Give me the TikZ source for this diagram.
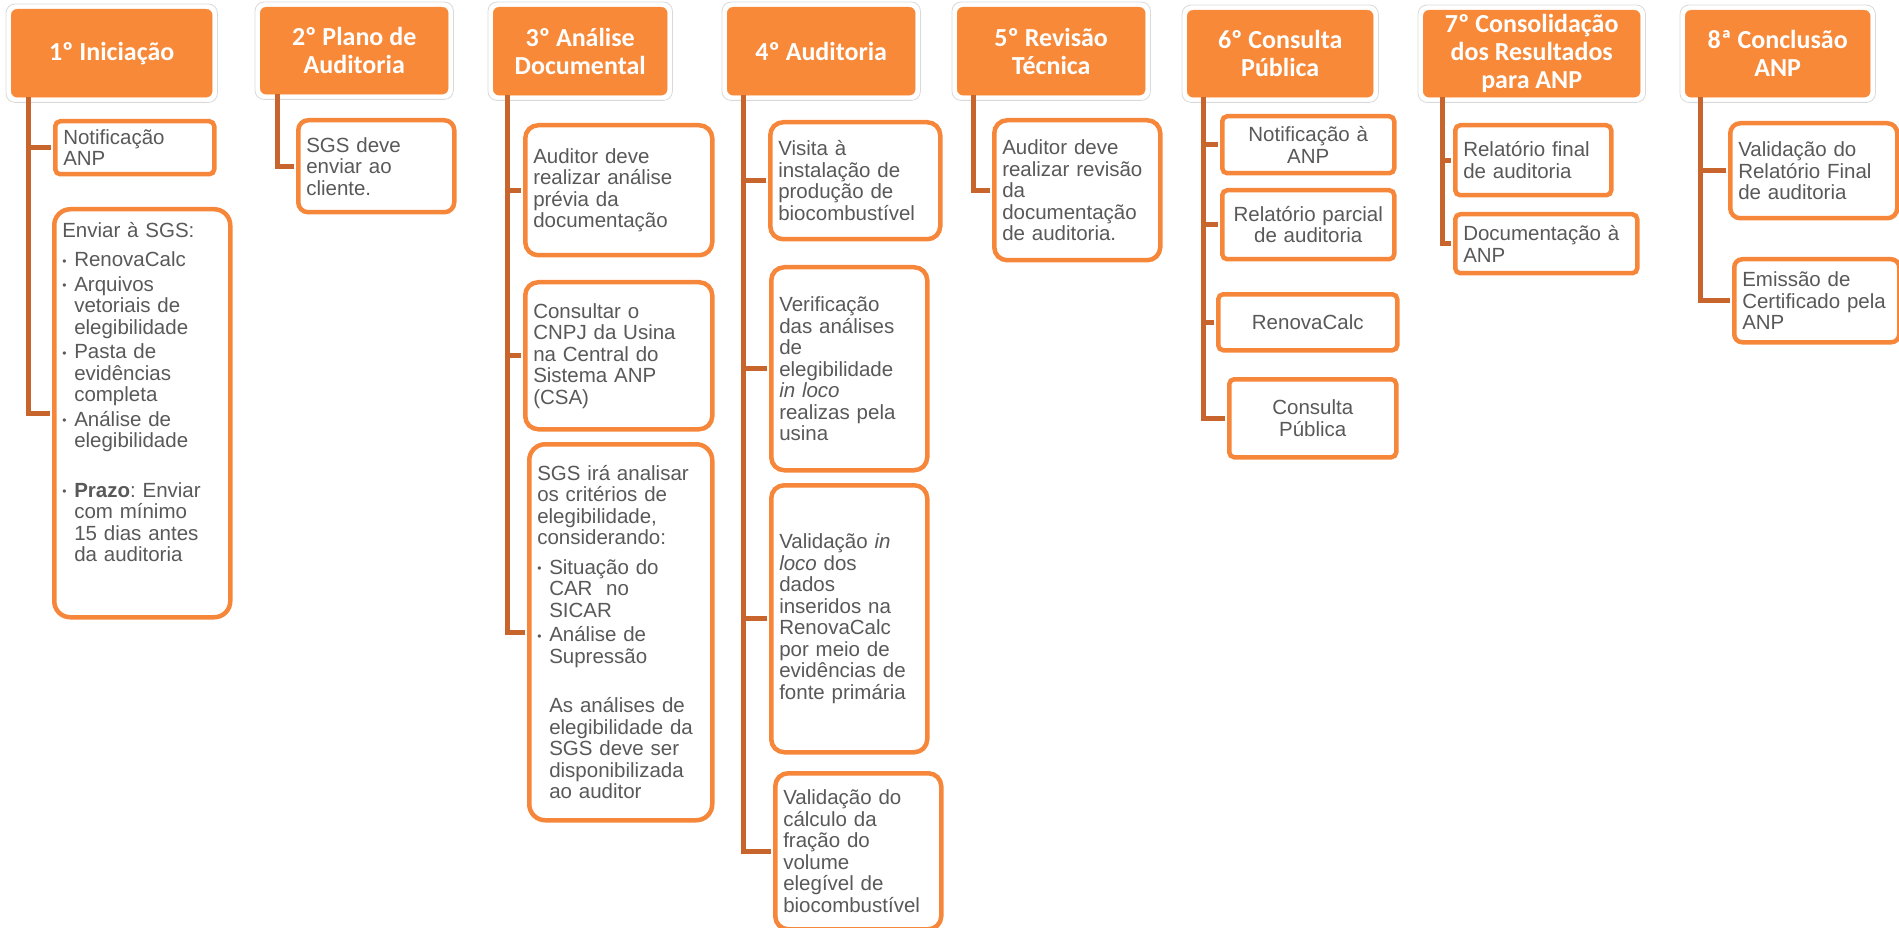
\documentclass[tikz,border=0pt]{standalone}
\usepackage{fontspec}
\setmainfont{Liberation Sans}
\newfontfamily\calfont{Carlito}
\usetikzlibrary{fit}
\definecolor{hdrorange}{RGB}{247,137,57}
\definecolor{boxorange}{RGB}{246,135,58}
\definecolor{linkorange}{RGB}{200,101,45}
\definecolor{txtgrey}{RGB}{89,89,89}
\definecolor{framegrey}{RGB}{217,217,217}
\newcommand{\hdrfont}{\calfont\bfseries\fontsize{26}{28}\selectfont}
\newcommand{\itemfont}{\fontsize{20.5}{21.5}\selectfont}
\newcommand{\bitem}{\makebox[12pt][l]{\raisebox{1.5pt}{\fontsize{12}{12}\selectfont\textbullet}}}
\newcommand{\bcont}{\hspace*{12pt}}
\setlength{\parindent}{0pt}
\frenchspacing

\begin{document}
\begin{tikzpicture}[x=1pt,y=-1pt,
    hdr/.style={fill=hdrorange, draw=hdrorange, rounded corners=6pt, text=white, font=\hdrfont, align=center, anchor=north west, inner sep=1pt},
    hframe/.style={draw=framegrey, line width=0.8pt, rounded corners=9pt, inner sep=5pt},
    item/.style={draw=boxorange, line width=4.5pt, fill=white, text=txtgrey, font=\itemfont, align=left, anchor=north west, inner xsep=8pt, inner ysep=0pt, rounded corners=13pt},
    slim/.style={rounded corners=5pt},
    link/.style={draw=linkorange, line width=5pt, shorten >=2pt}]
  \useasboundingbox (0,0) rectangle (1899,928);

  \node[hdr, minimum width=201pt, minimum height=88pt] (h1) at (11,9) {1º Iniciação};
  \node[hdr, minimum width=188pt, minimum height=87pt] (h2) at (260,7) {2º Plano de\\Auditoria};
  \node[hdr, minimum width=174pt, minimum height=88pt] (h3) at (493,7) {3º Análise\\Documental};
  \node[hdr, minimum width=188pt, minimum height=88pt] (h4) at (727,7) {4º Auditoria};
  \node[hdr, minimum width=188pt, minimum height=88pt] (h5) at (957,7) {5º Revisão\\Técnica};
  \node[hdr, minimum width=186pt, minimum height=87pt] (h6) at (1187,10) {6º Consulta\\Pública};
  \node[hdr, minimum width=217pt, minimum height=87pt] (h7) at (1423,10) {7º Consolidação\\dos Resultados\\para ANP};
  \node[hdr, minimum width=185pt, minimum height=87pt] (h8) at (1685,10) {8ª Conclusão\\ANP};

  \node[hframe, fit=(h1)] (f1) {};
  \node[hframe, fit=(h2)] (f2) {};
  \node[hframe, fit=(h3)] (f3) {};
  \node[hframe, fit=(h4)] (f4) {};
  \node[hframe, fit=(h5)] (f5) {};
  \node[hframe, fit=(h6)] (f6) {};
  \node[hframe, fit=(h7)] (f7) {};
  \node[hframe, fit=(h8)] (f8) {};

  \node[item, slim, text width=143pt, minimum height=53pt] (c1a) at (53,119) {Notificação\\ANP};
  \node[item, rounded corners=16pt, text width=160pt, minimum height=408pt] (c1b) at (52,207) {Enviar à SGS:\\[8pt]
    \bitem RenovaCalc\\[3pt]
    \bitem Arquivos\\\bcont vetoriais de\\\bcont elegibilidade\\[3pt]
    \bitem Pasta de\\\bcont evidências\\\bcont completa\\[3pt]
    \bitem Análise de\\\bcont elegibilidade\\[28pt]
    \bitem \textbf{Prazo}: Enviar\\\bcont com mínimo\\\bcont 15 dias antes\\\bcont da auditoria\par\vspace*{42pt}};

  \node[item, rounded corners=10pt, text width=140pt, minimum height=92pt] (c2a) at (296,118) {SGS deve\\enviar ao\\cliente.};

  \node[item, text width=171pt, minimum height=130pt] (c3a) at (523,123) {Auditor deve\\realizar análise\\prévia da\\documentação};
  \node[item, text width=171pt, minimum height=147pt] (c3b) at (523,280) {Consultar o\\CNPJ da Usina\\na Central do\\Sistema ANP\\(CSA)};
  \node[item, rounded corners=16pt, text width=167pt, minimum height=376pt] (c3c) at (527,442) {SGS irá analisar\\os critérios de\\elegibilidade,\\considerando:\\[8pt]
    \bitem Situação do\\\bcont CAR~ no\\\bcont SICAR\\[3pt]
    \bitem Análise de\\\bcont Supressão\\[28pt]
    \bcont As análises de\\\bcont elegibilidade da\\\bcont SGS deve ser\\\bcont disponibilizada\\\bcont ao auditor};

  \node[item, text width=154pt, minimum height=117pt] (c4a) at (768,120) {Visita à\\instalação de\\produção de\\biocombustível};
  \node[item, text width=140pt, minimum height=203pt] (c4b) at (769,265) {Verificação\\das análises\\de\\elegibilidade\\\textit{in loco}\\realizas pela\\usina};
  \node[item, text width=140pt, minimum height=267pt] (c4c) at (769,483) {Validação \textit{in}\\\textit{loco} dos\\dados\\inseridos na\\RenovaCalc\\por meio de\\evidências de\\fonte primária};
  \node[item, text width=150pt, minimum height=156pt] (c4d) at (773,771) {Validação do\\cálculo da\\fração do\\volume\\elegível de\\biocombustível};

  \node[item, text width=150pt, minimum height=140pt] (c5a) at (992,118) {Auditor deve\\realizar revisão\\da\\documentação\\de auditoria.};

  \node[item, slim, align=center, text width=156pt, minimum height=57pt] (c6a) at (1220,114) {Notificação à\\ANP};
  \node[item, slim, align=center, text width=156pt, minimum height=69pt] (c6b) at (1220,188) {Relatório parcial\\de auditoria};
  \node[item, slim, align=center, text width=163pt, minimum height=56pt] (c6c) at (1216,292) {RenovaCalc};
  \node[item, slim, align=center, text width=151pt, minimum height=78pt] (c6d) at (1227,377) {Consulta\\Pública};

  \node[item, slim, text width=140pt, minimum height=70pt] (c7a) at (1453,123) {Relatório final\\de auditoria};
  \node[item, slim, text width=166pt, minimum height=59pt] (c7b) at (1453,212) {Documentação à\\ANP};

  \node[item, rounded corners=10pt, text width=151pt, minimum height=95pt] (c8a) at (1728,121) {Validação do\\Relatório Final\\de auditoria};
  \node[item, rounded corners=8pt, text width=149pt, minimum height=83pt] (c8b) at (1732,257) {Emissão de\\Certificado pela\\ANP};

  \coordinate (s1) at ([xshift=17pt]h1.south west);
  \coordinate (s2) at ([xshift=17pt]h2.south west);
  \coordinate (s3) at ([xshift=14pt]h3.south west);
  \coordinate (s4) at ([xshift=16pt]h4.south west);
  \coordinate (s5) at ([xshift=16pt]h5.south west);
  \coordinate (s6) at ([xshift=16pt]h6.south west);
  \coordinate (s7) at ([xshift=19pt]h7.south west);
  \coordinate (s8) at ([xshift=15pt]h8.south west);

  \draw[link] (s1) |- (c1a.west);
  \draw[link] (s1) |- (c1b.west);
  \draw[link] (s2) |- (c2a.west);
  \draw[link] (s3) |- (c3a.west);
  \draw[link] (s3) |- (c3b.west);
  \draw[link] (s3) |- (c3c.west);
  \draw[link] (s4) |- (c4a.west);
  \draw[link] (s4) |- (c4b.west);
  \draw[link] (s4) |- (c4c.west);
  \draw[link] (s4) |- (c4d.west);
  \draw[link] (s5) |- (c5a.west);
  \draw[link] (s6) |- (c6a.west);
  \draw[link] (s6) |- (c6b.west);
  \draw[link] (s6) |- (c6c.west);
  \draw[link] (s6) |- (c6d.west);
  \draw[link] (s7) |- (c7a.west);
  \draw[link] (s7) |- (c7b.west);
  \draw[link] (s8) |- (c8a.west);
  \draw[link] (s8) |- (c8b.west);
\end{tikzpicture}
\end{document}
